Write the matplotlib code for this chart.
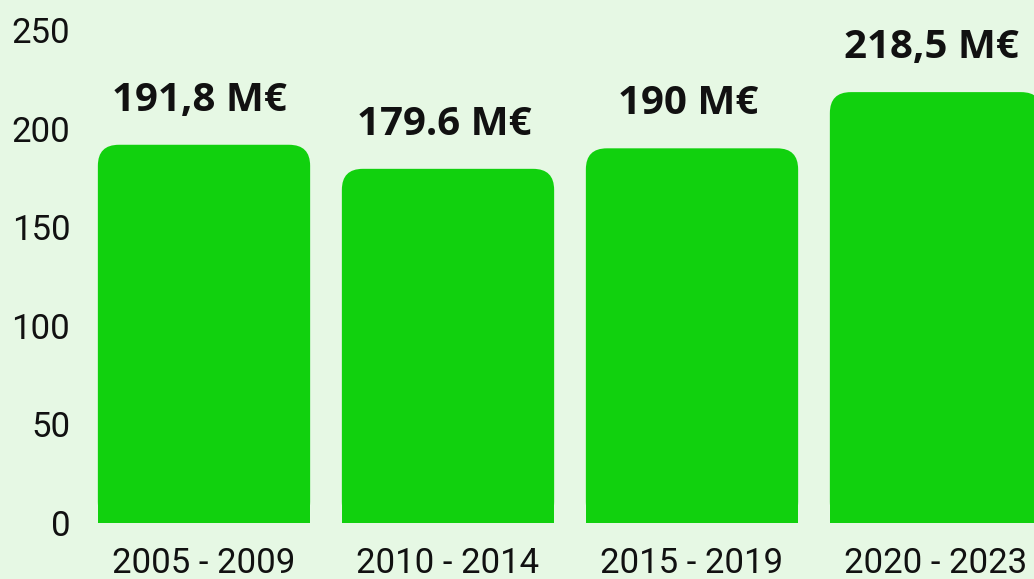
import matplotlib
matplotlib.use("Agg")
import matplotlib.pyplot as plt
from matplotlib.patches import FancyBboxPatch, Rectangle

periods = ["2005 - 2009", "2010 - 2014", "2015 - 2019", "2020 - 2023"]
values = [191.8, 179.6, 190, 218.5]
labels = ["191,8 M€", "179.6 M€", "190 M€", "218,5 M€"]
yticks = [0, 50, 100, 150, 200, 250]

bg = "#e6f8e4"
bar_color = "#11d10e"
txt = "#111111"

W, H = 1034, 579
fig = plt.figure(figsize=(W / 100, H / 100), dpi=100)
fig.patch.set_facecolor(bg)

# axes placed in pixels: left 80, bottom at y=523 from top, right at figure edge
ax = fig.add_axes([80 / W, (H - 523) / H, (W - 80) / W, 523 / H])
ax.set_facecolor(bg)
ax.set_xlim((80 - 204) / 244, (W - 204) / 244)
ax.set_ylim(0, 523 / 1.972)

for s in ax.spines.values():
    s.set_visible(False)

ax.set_yticks(yticks)
ax.set_yticklabels([str(t) for t in yticks], fontfamily="Roboto", fontsize=25, color=txt)
ax.set_xticks(range(len(periods)))
ax.set_xticklabels(periods, fontfamily="Roboto", fontsize=25, color=txt)
ax.tick_params(axis="y", length=0, pad=7)
ax.tick_params(axis="x", length=0, pad=17)

# rounded top corners only
width = 0.87
fig.canvas.draw()
p0 = ax.transData.transform((0, 0))
p1 = ax.transData.transform((1, 1))
aspect = (p1[0] - p0[0]) / (p1[1] - p0[1])
r = 21 / (p1[0] - p0[0])
for i, v in enumerate(values):
    x0 = i - width / 2
    ax.add_patch(FancyBboxPatch((x0, 0), width, v,
                                boxstyle="round,pad=0,rounding_size=%f" % r,
                                mutation_aspect=aspect, fc=bar_color, ec="none", clip_on=False))
    ax.add_patch(Rectangle((x0, 0), width, v / 2, fc=bar_color, ec="none", clip_on=False))
    ax.annotate(labels[i], (i, v), xytext=(-3, 32), textcoords="offset points",
                ha="center", va="center", fontfamily="Open Sans", fontweight="bold",
                fontsize=29, color=txt)

fig.savefig("out.png", dpi=100, facecolor=bg)
